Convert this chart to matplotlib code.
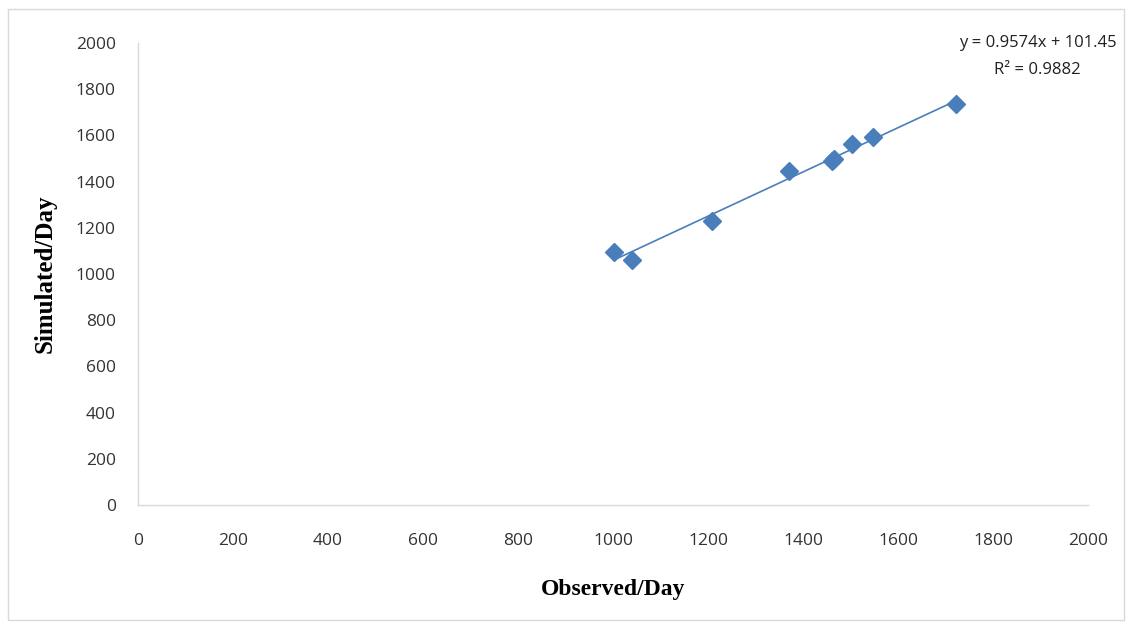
import matplotlib.pyplot as plt
import matplotlib.patches as patches
import numpy as np

# observed vs simulated values
observed = [1002, 1040, 1208, 1371, 1460, 1466, 1503, 1547, 1722]
simulated = [1095, 1060, 1229, 1446, 1488, 1500, 1562, 1592, 1736]

# trendline as printed on the chart
slope = 0.9574
intercept = 101.45
r_squared = 0.9882

ticks = [0, 200, 400, 600, 800, 1000, 1200, 1400, 1600, 1800, 2000]

blue = "#4A7EBB"

fig = plt.figure(figsize=(11.32, 6.24), dpi=100)
ax = fig.add_axes([138/1132, 119/624, 950/1132, 462/624])

# light grey frame round the whole chart
fig.patches.append(patches.Rectangle((8/1132, 4/624), 1116/1132, 611/624,
                                     transform=fig.transFigure, fill=False,
                                     edgecolor="#D9D9D9", linewidth=1.0))

# trendline from min to max observed
xs = np.array([min(observed), max(observed)])
ax.plot(xs, slope * xs + intercept, color=blue, linewidth=1.2, zorder=2)
ax.plot(observed, simulated, linestyle="none", marker="D", markersize=9,
        color=blue, zorder=3)

ax.set_xlim(0, 2000)
ax.set_ylim(0, 2000)
ax.set_xticks(ticks)
ax.set_yticks(ticks)
ax.tick_params(length=0, labelsize=12.5, colors="#333333")
ax.tick_params(axis="x", pad=20)
ax.tick_params(axis="y", pad=16)
for lab in ax.get_xticklabels() + ax.get_yticklabels():
    lab.set_fontfamily("Open Sans")

for s in ["top", "right"]:
    ax.spines[s].set_visible(False)
for s in ["left", "bottom"]:
    ax.spines[s].set_color("#D9D9D9")
    ax.spines[s].set_linewidth(1.0)

ax.set_xlabel("Observed/Day", fontfamily="Liberation Serif", fontweight="bold",
              fontsize=17, labelpad=22)
ax.set_ylabel("Simulated/Day", fontfamily="Liberation Serif", fontweight="bold",
              fontsize=18, labelpad=14)

fig.text(1038/1132, 1 - 43/624, f"y = {slope}x + {intercept}", ha="center",
         va="center", fontsize=12, fontfamily="Open Sans", color="#202020")
fig.text(1037/1132, 1 - 70/624, f"R\u00b2 = {r_squared}", ha="center",
         va="center", fontsize=12, fontfamily="Open Sans", color="#202020")

fig.savefig("out.png", dpi=100)
